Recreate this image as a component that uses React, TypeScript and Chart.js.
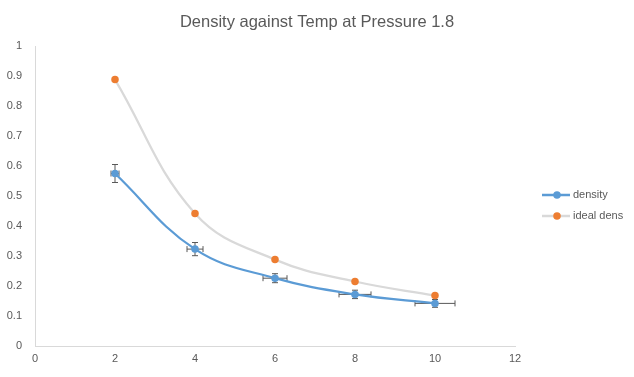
import React, { useEffect, useRef } from "react";
import { Chart, registerables } from "chart.js";

Chart.register(...registerables);

const temps = [2, 4, 6, 8, 10];
const density = [0.575, 0.323, 0.226, 0.172, 0.142];
const densityXErr = [0.1, 0.2, 0.3, 0.4, 0.5];
const densityYErr = [0.03, 0.022, 0.015, 0.014, 0.013];
const idealDens = [0.888, 0.442, 0.288, 0.215, 0.168];
const xTicks = [0, 2, 4, 6, 8, 10, 12];
const yTicks = [0, 0.1, 0.2, 0.3, 0.4, 0.5, 0.6, 0.7, 0.8, 0.9, 1];
const seriesNames = ["density", "ideal dens"];
const titleText = "Density against Temp at Pressure 1.8";

const FONT = "'Liberation Sans', Arial, sans-serif";
const TEXT = "#595959";

const errorBarPlugin = {
  id: "errorBars",
  beforeDatasetsDraw(chart: any) {
    const { ctx, scales } = chart;
    const xs = scales.x;
    const ys = scales.y;
    ctx.save();
    ctx.strokeStyle = "#595959";
    ctx.lineWidth = 1;
    const cap = 3;
    temps.forEach((t, i) => {
      const px = xs.getPixelForValue(t);
      const py = ys.getPixelForValue(density[i]);
      const x1 = xs.getPixelForValue(t - densityXErr[i]);
      const x2 = xs.getPixelForValue(t + densityXErr[i]);
      const y1 = ys.getPixelForValue(density[i] + densityYErr[i]);
      const y2 = ys.getPixelForValue(density[i] - densityYErr[i]);
      ctx.beginPath();
      ctx.moveTo(x1, py);
      ctx.lineTo(x2, py);
      ctx.moveTo(x1, py - cap);
      ctx.lineTo(x1, py + cap);
      ctx.moveTo(x2, py - cap);
      ctx.lineTo(x2, py + cap);
      ctx.moveTo(px, y1);
      ctx.lineTo(px, y2);
      ctx.moveTo(px - cap, y1);
      ctx.lineTo(px + cap, y1);
      ctx.moveTo(px - cap, y2);
      ctx.lineTo(px + cap, y2);
      ctx.stroke();
    });
    ctx.restore();
  },
};

const titleLegendPlugin = {
  id: "titleLegend",
  afterDraw(chart: any) {
    const { ctx, chartArea, width } = chart;
    ctx.save();
    ctx.fillStyle = TEXT;
    ctx.font = `16.5px ${FONT}`;
    ctx.textAlign = "center";
    ctx.textBaseline = "middle";
    ctx.fillText(titleText, width / 2, 22);

    const x0 = chartArea.right + 27;
    const yMid = (chartArea.top + chartArea.bottom) / 2;
    const rows = [yMid - 1, yMid + 20];
    const lineCols = ["#5b9bd5", "#d9d9d9"];
    const dotCols = ["#5b9bd5", "#ed7d31"];
    rows.forEach((y, i) => {
      ctx.strokeStyle = lineCols[i];
      ctx.lineWidth = 2.5;
      ctx.beginPath();
      ctx.moveTo(x0, y);
      ctx.lineTo(x0 + 28, y);
      ctx.stroke();
      ctx.fillStyle = dotCols[i];
      ctx.beginPath();
      ctx.arc(x0 + 15, y, 3.75, 0, Math.PI * 2);
      ctx.fill();
      ctx.fillStyle = TEXT;
      ctx.font = `11px ${FONT}`;
      ctx.textBaseline = "middle";
      ctx.textAlign = "left";
      ctx.fillText(seriesNames[i], x0 + 31, y);
    });
    ctx.restore();
  },
};

export default function App() {
  const ref = useRef<HTMLCanvasElement | null>(null);
  useEffect(() => {
    document.body.style.margin = "0";
    if (!ref.current) return;
    const chart = new Chart(ref.current, {
      type: "line",
      data: {
        datasets: [
          {
            label: seriesNames[0],
            data: temps.map((t, i) => ({ x: t, y: density[i] })),
            borderColor: "#5b9bd5",
            backgroundColor: "#5b9bd5",
            pointBackgroundColor: "#5b9bd5",
            pointBorderColor: "#5b9bd5",
            borderWidth: 2.25,
            pointRadius: 3.75,
            pointBorderWidth: 0,
            tension: 0.4,
            order: 1,
          },
          {
            label: seriesNames[1],
            data: temps.map((t, i) => ({ x: t, y: idealDens[i] })),
            borderColor: "#d9d9d9",
            backgroundColor: "#ed7d31",
            pointBackgroundColor: "#ed7d31",
            pointBorderColor: "#ed7d31",
            borderWidth: 2.25,
            pointRadius: 3.75,
            pointBorderWidth: 0,
            tension: 0.4,
            order: 2,
          },
        ],
      },
      options: {
        animation: false,
        responsive: false,
        maintainAspectRatio: false,
        layout: { padding: { left: 0, right: 119, top: 46, bottom: 0 } },
        plugins: {
          legend: { display: false },
          tooltip: { enabled: false },
          title: { display: false },
        },
        scales: {
          x: {
            type: "linear",
            min: 0,
            max: 12,
            afterBuildTicks: (s: any) => {
              s.ticks = xTicks.map((v) => ({ value: v }));
            },
            grid: { display: false, drawTicks: false },
            border: { display: true, color: "#d9d9d9", width: 1 },
            ticks: { color: TEXT, font: { family: FONT, size: 11 }, padding: 6, callback: (v: any) => String(v) },
            afterFit: (s: any) => {
              s.height = 31;
            },
          },
          y: {
            type: "linear",
            min: 0,
            max: 1,
            afterBuildTicks: (s: any) => {
              s.ticks = yTicks.map((v) => ({ value: v }));
            },
            grid: { display: false, drawTicks: false },
            border: { display: true, color: "#d9d9d9", width: 1 },
            ticks: { color: TEXT, font: { family: FONT, size: 11 }, padding: 13, callback: (v: any) => String(v) },
            afterFit: (s: any) => {
              s.width = 35;
            },
          },
        },
      },
      plugins: [errorBarPlugin, titleLegendPlugin],
    } as any);
    return () => chart.destroy();
  }, []);
  return (
    <div style={{ width: 634, height: 377, position: "relative" }}>
      <canvas ref={ref} width={634} height={377} />
    </div>
  );
}
